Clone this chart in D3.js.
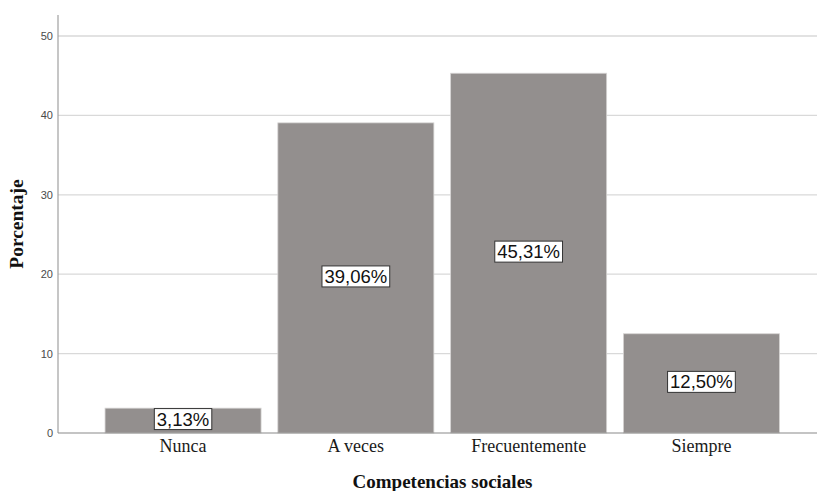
<!DOCTYPE html>
<html>
<head>
<meta charset="utf-8">
<script src="https://cdn.jsdelivr.net/npm/d3@7"></script>
<style>
  html, body { margin: 0; padding: 0; background: #fff; }
  svg { display: block; }
</style>
</head>
<body>
<svg id="chart" width="817" height="491"></svg>
<script>
const categories = ["Nunca", "A veces", "Frecuentemente", "Siempre"];
const values = [3.13, 39.06, 45.31, 12.50];
const valueLabels = ["3,13%", "39,06%", "45,31%", "12,50%"];
const yTicks = [0, 10, 20, 30, 40, 50];
const xTitle = "Competencias sociales";
const yTitle = "Porcentaje";

const svg = d3.select("#chart");
const axisX = 58, plotTop = 15, plotBottom = 433, plotRight = 817;
const serif = "'Liberation Serif', 'Times New Roman', serif";
const sans = "Arial, 'Liberation Sans', sans-serif";

const y = d3.scaleLinear().domain([0, 50]).range([plotBottom, 36]);
const x = d3.scaleBand().domain(categories).range([96.4, 788.1])
  .paddingInner(0.097).paddingOuter(0.05);

// gridlines
svg.append("g").selectAll("line").data(yTicks.filter(d => d > 0)).join("line")
  .attr("x1", axisX).attr("x2", plotRight)
  .attr("y1", d => y(d)).attr("y2", d => y(d))
  .attr("stroke", "#d9d9d9").attr("stroke-width", 1.3);

// y axis
const yAxis = d3.axisLeft(y).tickValues(yTicks).tickSize(0).tickPadding(5);
const gy = svg.append("g").attr("transform", `translate(${axisX},0)`).call(yAxis);
gy.select(".domain").remove();
gy.selectAll("text").attr("font-family", sans)
  .attr("font-size", 11).attr("fill", "#4a4a4a");
svg.append("line").attr("x1", axisX).attr("x2", axisX)
  .attr("y1", plotTop).attr("y2", plotBottom)
  .attr("stroke", "#a0a0a0").attr("stroke-width", 1.2);

// bars
svg.append("g").selectAll("rect").data(values).join("rect")
  .attr("x", (d, i) => x(categories[i]))
  .attr("width", x.bandwidth())
  .attr("y", d => y(d))
  .attr("height", d => plotBottom - y(d))
  .attr("fill", "#938f8e")
  .attr("stroke", "#d6d4d3").attr("stroke-width", 0.8);

// baseline
svg.append("line").attr("x1", axisX).attr("x2", plotRight)
  .attr("y1", plotBottom).attr("y2", plotBottom)
  .attr("stroke", "#8a8a8a").attr("stroke-width", 1.2);

// x axis labels
const xAxis = d3.axisBottom(x).tickSize(0).tickPadding(6);
const gx = svg.append("g").attr("transform", `translate(0,${plotBottom})`).call(xAxis);
gx.select(".domain").remove();
gx.selectAll("text").attr("font-family", serif)
  .attr("font-size", 18).attr("fill", "#1a1a1a");

// value labels
const lab = svg.append("g").selectAll("g").data(values).join("g")
  .attr("transform", (d, i) => `translate(${x(categories[i]) + x.bandwidth() / 2},${(y(d) + plotBottom) / 2 - 1.5})`);
lab.append("text")
  .attr("text-anchor", "middle").attr("dominant-baseline", "central")
  .attr("font-family", sans)
  .attr("font-size", 18.5).attr("fill", "#111")
  .text((d, i) => valueLabels[i]);
lab.each(function() {
  const g = d3.select(this);
  const bb = g.select("text").node().getBBox();
  g.insert("rect", "text")
    .attr("x", bb.x - 2.5).attr("y", bb.y)
    .attr("width", bb.width + 5).attr("height", bb.height)
    .attr("fill", "#fff").attr("stroke", "#333").attr("stroke-width", 1);
});

// titles
svg.append("text").attr("x", 442.5).attr("y", 488)
  .attr("text-anchor", "middle")
  .attr("font-family", serif)
  .attr("font-weight", "bold").attr("font-size", 19).attr("fill", "#111")
  .text(xTitle);
svg.append("text")
  .attr("transform", "translate(23,224) rotate(-90)")
  .attr("text-anchor", "middle")
  .attr("font-family", serif)
  .attr("font-weight", "bold").attr("font-size", 19.5).attr("fill", "#111")
  .text(yTitle);
</script>
</body>
</html>
